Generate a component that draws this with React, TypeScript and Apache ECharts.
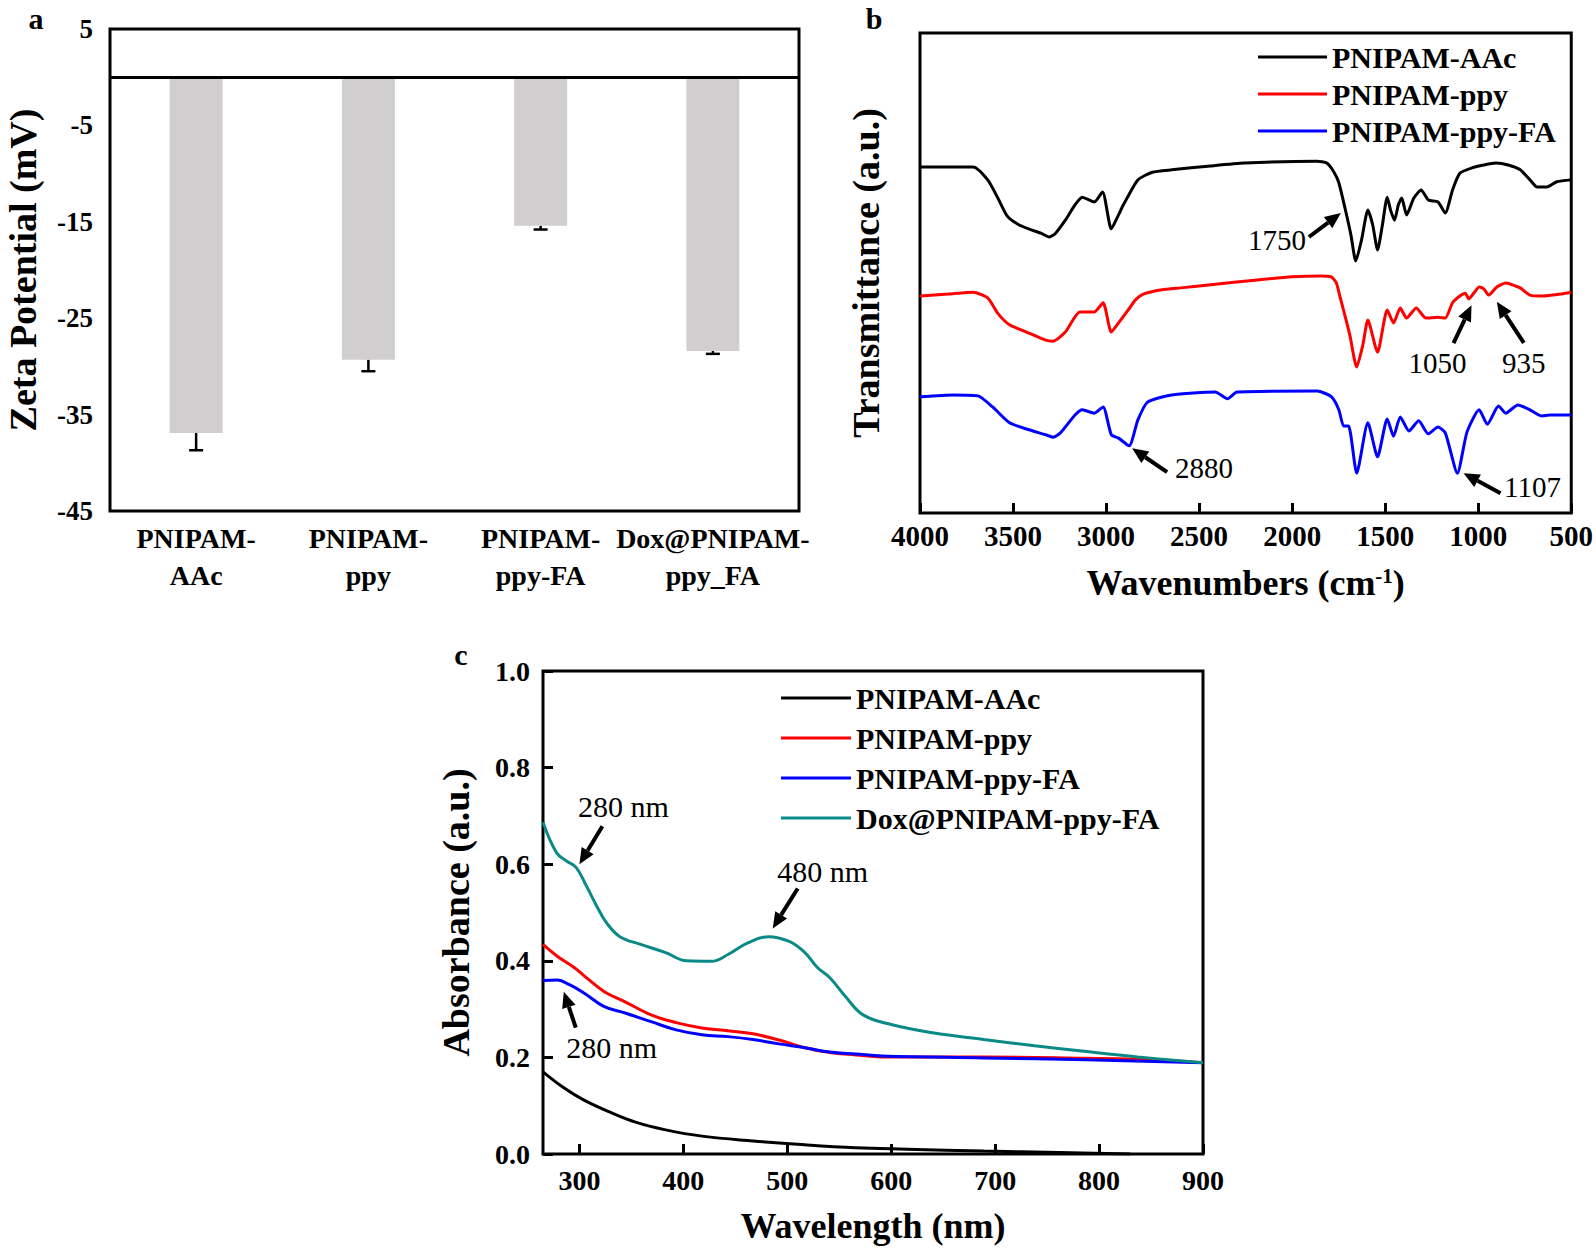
import React, { useEffect, useRef } from 'react';
import * as echarts from 'echarts';

const FONT = '"Liberation Serif", "Times New Roman", Times, serif';

// ---- Panel a: zeta potential ----
const zetaCategories = ['PNIPAM-AAc', 'PNIPAM-ppy', 'PNIPAM-ppy-FA', 'Dox@PNIPAM-ppy_FA'];
const zetaValues = [-36.9, -29.3, -15.4, -28.4];
const zetaErrors = [1.8, 1.2, 0.4, 0.3];
const zetaTicks = [-45, -35, -25, -15, -5, 5];

// ---- Panel b: FTIR (wavenumber, transmittance a.u.) ----
const ftirNames = ['PNIPAM-AAc', 'PNIPAM-ppy', 'PNIPAM-ppy-FA'];
const ftirAAc = [
  [4000, 72.1], [3714, 72.1], [3636, 69.4], [3584, 65.8], [3532, 61.9], [3467, 60.0], [3402, 59.0],
  [3350, 58.3], [3305, 57.5], [3271, 58.3], [3219, 61.0], [3167, 64.2], [3128, 65.8], [3063, 64.8],
  [3019, 66.9], [2972, 59.2], [2933, 62.1], [2907, 64.2], [2829, 69.4], [2751, 71.0], [2647, 71.5],
  [2439, 72.3], [2257, 72.9], [1866, 73.3], [1814, 72.9], [1775, 71.0], [1749, 68.8], [1710, 62.5],
  [1684, 57.9], [1658, 52.5], [1627, 56.9], [1593, 63.1], [1567, 60.0], [1541, 54.8], [1515, 60.0],
  [1489, 65.8], [1471, 63.1], [1450, 61.0], [1429, 64.2], [1411, 65.6], [1385, 62.1], [1346, 65.6],
  [1307, 67.3], [1268, 65.2], [1216, 64.8], [1177, 62.5], [1138, 67.3], [1099, 70.8], [1034, 71.9],
  [969, 72.5], [904, 72.9], [839, 72.5], [774, 71.5], [722, 69.4], [683, 67.9], [631, 67.9],
  [578, 69.0], [500, 69.4],
];
const ftirPpy = [
  [4000, 45.2], [3850, 45.6], [3714, 46.0], [3636, 44.8], [3584, 41.7], [3519, 39.2], [3428, 37.7],
  [3324, 36.0], [3284, 35.8], [3219, 37.7], [3141, 41.9], [3063, 41.9], [3016, 43.8], [2972, 37.7],
  [2933, 39.6], [2881, 42.3], [2842, 44.4], [2800, 45.6], [2700, 46.5], [2600, 46.9], [2400, 47.7],
  [2200, 48.5], [2000, 49.2], [1850, 49.4], [1790, 49.2], [1762, 47.9], [1745, 45.4], [1710, 40.2],
  [1690, 37.1], [1653, 30.4], [1620, 35.0], [1593, 40.2], [1541, 33.5], [1489, 42.3], [1455, 39.6],
  [1419, 42.7], [1385, 40.6], [1333, 42.7], [1281, 40.6], [1216, 40.8], [1177, 40.6], [1138, 43.8],
  [1099, 45.2], [1070, 45.8], [1050, 44.6], [1020, 46.0], [995, 47.1], [970, 46.7], [943, 45.4],
  [900, 47.1], [852, 47.9], [800, 47.3], [774, 46.9], [722, 45.4], [650, 45.2], [560, 45.6],
  [500, 46.0],
];
const ftirPpyFA = [
  [4000, 24.2], [3818, 24.6], [3688, 24.4], [3610, 22.1], [3519, 18.8], [3428, 17.5], [3324, 16.3],
  [3284, 15.8], [3245, 16.7], [3167, 20.4], [3128, 21.5], [3063, 20.8], [3016, 22.1], [2972, 16.3],
  [2933, 15.6], [2876, 14.0], [2829, 19.4], [2777, 23.1], [2647, 24.6], [2413, 25.2], [2348, 23.8],
  [2296, 25.2], [1866, 25.4], [1788, 24.2], [1749, 21.5], [1723, 18.1], [1697, 18.1], [1653, 8.3],
  [1593, 18.8], [1541, 11.7], [1489, 19.6], [1455, 16.0], [1419, 20.0], [1372, 17.1], [1320, 19.2],
  [1268, 16.5], [1216, 17.9], [1177, 16.7], [1112, 8.3], [1060, 16.9], [995, 21.5], [951, 18.5],
  [891, 22.3], [852, 20.8], [787, 22.5], [722, 21.5], [657, 20.2], [617, 20.4], [500, 20.4],
];

// ---- Panel c: UV-vis (wavelength nm, absorbance) ----
const uvNames = ['PNIPAM-AAc', 'PNIPAM-ppy', 'PNIPAM-ppy-FA', 'Dox@PNIPAM-ppy-FA'];
const uvTicks = [300, 400, 500, 600, 700, 800, 900];
const uvAAc = [
  [265, 0.170], [285, 0.137], [304, 0.112], [329, 0.087], [354, 0.066], [383, 0.050], [418, 0.037],
  [467, 0.027], [517, 0.019], [566, 0.013], [615, 0.010], [689, 0.006], [762, 0.003], [830, 0.0],
];
const uvPpy = [
  [265, 0.434], [279, 0.409], [295, 0.386], [309, 0.361], [324, 0.336], [344, 0.315], [369, 0.288],
  [393, 0.272], [418, 0.261], [443, 0.255], [467, 0.249], [492, 0.236], [517, 0.220], [541, 0.210],
  [566, 0.205], [591, 0.201], [689, 0.201], [788, 0.198], [850, 0.195], [900, 0.189],
];
const uvPpyFA = [
  [265, 0.359], [279, 0.360], [290, 0.351], [304, 0.334], [324, 0.305], [344, 0.292], [369, 0.274],
  [393, 0.257], [418, 0.247], [443, 0.243], [467, 0.237], [492, 0.228], [517, 0.220], [541, 0.211],
  [566, 0.207], [591, 0.203], [689, 0.199], [788, 0.195], [900, 0.189],
];
const uvDox = [
  [265, 0.687], [278, 0.624], [288, 0.606], [297, 0.593], [307, 0.554], [317, 0.512], [326, 0.479],
  [339, 0.450], [359, 0.434], [383, 0.417], [403, 0.400], [427, 0.399], [443, 0.413], [462, 0.437],
  [482, 0.450], [502, 0.440], [517, 0.417], [529, 0.386], [541, 0.365], [556, 0.326], [573, 0.288],
  [600, 0.268], [640, 0.251], [689, 0.237], [738, 0.224], [788, 0.212], [837, 0.201], [900, 0.189],
];

// annotations: target in data coords, pixel offsets for arrow tail and text
const ftirNotes = [
  { label: '1750', at: [1738, 62.5], tail: [-32, 24], text: [-64, 27] },
  { label: '2880', at: [2860, 13.5], tail: [35, 24], text: [72, 20] },
  { label: '1107', at: [1079, 8.3], tail: [37, 20], text: [69, 14] },
  { label: '1050', at: [1036, 43.3], tail: [-18, 38], text: [-34, 58] },
  { label: '935', at: [900, 44.0], tail: [27, 41], text: [27, 61] },
];
const uvNotes = [
  { label: '280 nm', at: [300, 0.6], tail: [23, -38], text: [44, -58] },
  { label: '480 nm', at: [486, 0.467], tail: [25, -40], text: [50, -57] },
  { label: '280 nm', at: [285, 0.336], tail: [12, 36], text: [48, 56] },
];

const bold = { fontFamily: FONT, fontWeight: 'bold' as const, color: '#000' };

function arrow(hx: number, hy: number, tx: number, ty: number) {
  const ang = Math.atan2(hy - ty, hx - tx);
  const L = 16, W = 7;
  const c = Math.cos(ang), s = Math.sin(ang);
  const bx = hx - L * c, by = hy - L * s;
  return [
    { type: 'line', shape: { x1: tx, y1: ty, x2: bx, y2: by }, style: { stroke: '#000', lineWidth: 4 } },
    {
      type: 'polygon',
      shape: { points: [[hx, hy], [bx + W * s, by - W * c], [bx - W * s, by + W * c]] },
      style: { fill: '#000' },
    },
  ];
}

export default function App() {
  const ref = useRef<HTMLDivElement>(null);
  useEffect(() => {
    document.body.style.margin = '0';
    const chart = echarts.init(ref.current!, null, { renderer: 'svg' });
    const lineSeries = (name: string, data: number[][], color: string, idx: number, smooth: number) => ({
      type: 'line', name, data, xAxisIndex: idx, yAxisIndex: idx, color,
      showSymbol: false, symbol: 'none', smooth, lineStyle: { color, width: 3 }, silent: true,
    });
    const option: any = {
      animation: false,
      backgroundColor: '#fff',
      grid: [
        { left: 110, top: 29, width: 689, height: 482, show: true, borderColor: '#000', borderWidth: 3, backgroundColor: 'transparent' },
        { left: 920, top: 33, width: 653, height: 480, show: true, borderColor: '#000', borderWidth: 3, backgroundColor: 'transparent' },
        { left: 543, top: 671, width: 660, height: 483, show: true, borderColor: '#000', borderWidth: 3, backgroundColor: 'transparent' },
      ],
      legend: [
        {
          data: ftirNames, orient: 'vertical', left: 1253, top: 37, itemWidth: 69, itemHeight: 3,
          icon: 'rect', itemGap: 7, selectedMode: false,
          textStyle: { ...bold, fontSize: 30, lineHeight: 30 },
        },
        {
          data: uvNames, orient: 'vertical', left: 776, top: 678, itemWidth: 70, itemHeight: 3,
          icon: 'rect', itemGap: 10, selectedMode: false,
          textStyle: { ...bold, fontSize: 30, lineHeight: 30 },
        },
      ],
      xAxis: [
        {
          gridIndex: 0, type: 'category', data: zetaCategories,
          axisLine: { show: false }, axisTick: { show: false }, splitLine: { show: false },
          axisLabel: { ...bold, fontSize: 28, lineHeight: 37, margin: 9, interval: 0, formatter: (s: string) => s.replace('-', '-\n') },
        },
        {
          gridIndex: 1, type: 'value', min: 500, max: 4000, interval: 500, inverse: true,
          axisLine: { show: false }, splitLine: { show: false },
          axisTick: { show: true, inside: true, length: 10, lineStyle: { color: '#000', width: 3 } },
          axisLabel: { ...bold, fontSize: 29, margin: 8, formatter: (v: number) => String(v) },
          name: 'Wavenumbers (cm{sup|-1})', nameLocation: 'middle', nameGap: 52,
          nameTextStyle: { ...bold, fontSize: 36, rich: { sup: { ...bold, fontSize: 21, verticalAlign: 'top', lineHeight: 20 } } },
        },
        {
          gridIndex: 2, type: 'value', min: 265, max: 900,
          axisLine: { show: false }, splitLine: { show: false },
          axisTick: { show: true, inside: true, length: 10, customValues: uvTicks, lineStyle: { color: '#000', width: 3 } },
          axisLabel: { ...bold, fontSize: 28, margin: 12, customValues: uvTicks, formatter: (v: number) => String(v) },
          name: 'Wavelength (nm)', nameLocation: 'middle', nameGap: 54,
          nameTextStyle: { ...bold, fontSize: 36 },
        },
      ],
      yAxis: [
        {
          gridIndex: 0, type: 'value', min: -45, max: 5,
          axisLine: { show: false }, axisTick: { show: false }, splitLine: { show: false },
          axisLabel: { ...bold, fontSize: 27, margin: 17, customValues: zetaTicks },
          name: 'Zeta Potential (mV)', nameLocation: 'middle', nameGap: 68, nameRotate: 90,
          nameTextStyle: { ...bold, fontSize: 38 },
        },
        {
          gridIndex: 1, type: 'value', min: 0, max: 100,
          axisLine: { show: false }, axisTick: { show: false }, splitLine: { show: false }, axisLabel: { show: false },
          name: 'Transmittance (a.u.)', nameLocation: 'middle', nameGap: 35, nameRotate: 90,
          nameTextStyle: { ...bold, fontSize: 38 },
        },
        {
          gridIndex: 2, type: 'value', min: 0, max: 1, interval: 0.2,
          axisLine: { show: false }, splitLine: { show: false },
          axisTick: { show: true, inside: true, length: 10, lineStyle: { color: '#000', width: 3 } },
          axisLabel: { ...bold, fontSize: 28, margin: 13, formatter: (v: number) => v.toFixed(1) },
          name: 'Absorbance (a.u.)', nameLocation: 'middle', nameGap: 68, nameRotate: 90,
          nameTextStyle: { ...bold, fontSize: 38 },
        },
      ],
      series: [
        {
          type: 'bar', name: 'zeta', data: zetaValues, xAxisIndex: 0, yAxisIndex: 0, barWidth: 53,
          itemStyle: { color: '#d0cece' }, silent: true,
          markLine: {
            silent: true, symbol: ['none', 'none'], label: { show: false },
            lineStyle: { color: '#000', width: 3, type: 'solid' }, data: [{ yAxis: 0 }],
          },
        },
        {
          type: 'custom', name: 'zetaErr', xAxisIndex: 0, yAxisIndex: 0, silent: true,
          data: zetaValues.map((v, i) => [i, v, zetaErrors[i]]),
          encode: { x: 0, y: 1 },
          renderItem: (params: any, api: any) => {
            const i = api.value(0), v = api.value(1), e = api.value(2);
            const top = api.coord([i, v]);
            const bot = api.coord([i, v - e]);
            return {
              type: 'group',
              children: [
                { type: 'line', shape: { x1: top[0], y1: top[1], x2: bot[0], y2: bot[1] }, style: { stroke: '#000', lineWidth: 2.5 } },
                { type: 'line', shape: { x1: bot[0] - 7, y1: bot[1], x2: bot[0] + 7, y2: bot[1] }, style: { stroke: '#000', lineWidth: 2.5 } },
              ],
            };
          },
        },
        lineSeries(ftirNames[0], ftirAAc, '#000000', 1, 0.2),
        lineSeries(ftirNames[1], ftirPpy, '#ff0000', 1, 0.2),
        lineSeries(ftirNames[2], ftirPpyFA, '#0000ff', 1, 0.2),
        lineSeries(uvNames[0], uvAAc, '#000000', 2, 0.4),
        lineSeries(uvNames[1], uvPpy, '#ff0000', 2, 0.4),
        lineSeries(uvNames[2], uvPpyFA, '#0000ff', 2, 0.4),
        lineSeries(uvNames[3], uvDox, '#0a8a86', 2, 0.4),
      ],
    };
    chart.setOption(option);

    const graphics: any[] = [
      { type: 'text', x: 36, y: 18, style: { text: 'a', font: `bold 30px ${FONT}`, fill: '#000', align: 'center', verticalAlign: 'middle' } },
      { type: 'text', x: 874, y: 18, style: { text: 'b', font: `bold 30px ${FONT}`, fill: '#000', align: 'center', verticalAlign: 'middle' } },
      { type: 'text', x: 461, y: 654, style: { text: 'c', font: `bold 30px ${FONT}`, fill: '#000', align: 'center', verticalAlign: 'middle' } },
    ];
    const addNotes = (notes: any[], idx: number, size: number) => {
      notes.forEach((n) => {
        const p = chart.convertToPixel({ xAxisIndex: idx, yAxisIndex: idx }, n.at) as number[];
        const [hx, hy] = p;
        graphics.push(...arrow(hx, hy, hx + n.tail[0], hy + n.tail[1]));
        graphics.push({
          type: 'text', x: hx + n.text[0], y: hy + n.text[1],
          style: { text: n.label, font: `${size}px ${FONT}`, fill: '#000', align: 'center', verticalAlign: 'middle' },
        });
      });
    };
    addNotes(ftirNotes, 1, 29);
    addNotes(uvNotes, 2, 30);
    chart.setOption({ graphic: graphics });

    return () => chart.dispose();
  }, []);
  return <div ref={ref} style={{ width: 1596, height: 1250 }} />;
}
